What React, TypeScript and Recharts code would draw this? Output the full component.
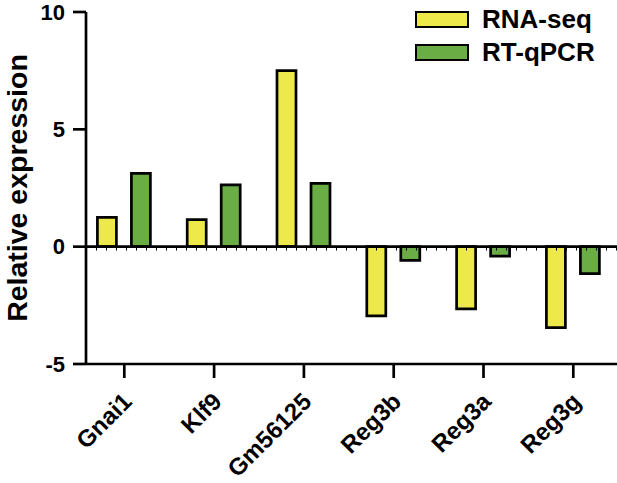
import React from 'react';
import { BarChart, Bar, XAxis, YAxis, ReferenceLine } from 'recharts';

const genes = ['Gnai1', 'Klf9', 'Gm56125', 'Reg3b', 'Reg3a', 'Reg3g'];
const rnaSeq = [1.25, 1.15, 7.5, -2.95, -2.65, -3.45];
const rtQpcr = [3.12, 2.63, 2.7, -0.58, -0.4, -1.15];
const yTicks = [-5, 0, 5, 10];
const seriesNames = ['RNA-seq', 'RT-qPCR'];

const data = genes.map((g, i) => ({ gene: g, rna: rnaSeq[i], qpcr: rtQpcr[i] }));

const FONT = 'Arial, "Liberation Sans", Helvetica, sans-serif';
const YELLOW = '#EEE94B';
const GREEN = '#69AD44';

const XTick = (props: any) => {
  const { x, y, payload } = props;
  const tx = x + 3;
  const ty = y + 17;
  return (
    <text
      x={tx}
      y={ty}
      transform={`rotate(-45, ${tx}, ${ty})`}
      textAnchor="end"
      dominantBaseline="central"
      fontFamily={FONT}
      fontWeight="bold"
      fontSize={24}
      fill="#000"
    >
      {payload.value}
    </text>
  );
};

const YTick = (props: any) => {
  const { x, y, payload } = props;
  return (
    <text
      x={x - 6}
      y={y}
      textAnchor="end"
      dominantBaseline="central"
      fontFamily={FONT}
      fontWeight="bold"
      fontSize={22}
      fill="#000"
    >
      {payload.value}
    </text>
  );
};

const YLabel = (props: any) => {
  const vb = props.viewBox || { x: 0, y: 12, width: 86, height: 352 };
  const cx = vb.x + 27;
  const cy = vb.y + vb.height / 2;
  return (
    <text
      x={cx}
      y={cy}
      transform={`rotate(-90, ${cx}, ${cy})`}
      textAnchor="middle"
      fontFamily={FONT}
      fontWeight="bold"
      fontSize={28.5}
      fill="#000"
    >
      Relative expression
    </text>
  );
};

const LegendBox = () => {
  const colors = [YELLOW, GREEN];
  return (
    <div style={{ position: 'absolute', top: 3, left: 415, fontFamily: FONT }}>
      {seriesNames.map((label, i) => (
        <div key={label} style={{ display: 'flex', alignItems: 'center', height: 33 }}>
          <div
            style={{
              width: 50,
              height: 13,
              background: colors[i],
              border: '2.5px solid #000',
              marginRight: 13,
            }}
          />
          <span style={{ fontWeight: 'bold', fontSize: 26, color: '#000', lineHeight: '33px' }}>{label}</span>
        </div>
      ))}
    </div>
  );
};

export default function App() {
  return (
    <div style={{ position: 'absolute', left: 0, top: 0, width: 617, height: 483, background: '#fff' }}>
      <BarChart
        width={617}
        height={483}
        data={data}
        margin={{ top: 12, right: 0, bottom: 0, left: 0 }}
        barGap={15}
        barSize={19}
      >
        <XAxis
          dataKey="gene"
          axisLine={{ stroke: '#000', strokeWidth: 2.7 }}
          tickLine={{ stroke: '#000', strokeWidth: 2.7 }}
          tickSize={14}
          tick={<XTick />}
          interval={0}
          padding={{ left: -6.6, right: -1.2 }}
          height={119}
        />
        <YAxis
          domain={[-5, 10]}
          ticks={yTicks}
          width={86}
          axisLine={{ stroke: '#000', strokeWidth: 2.7 }}
          tickLine={{ stroke: '#000', strokeWidth: 2.7 }}
          tickSize={13}
          tick={<YTick />}
          interval={0}
          label={<YLabel />}
        />
        <ReferenceLine y={0} stroke="#000" strokeWidth={2.7} />
        <ReferenceLine y={-0.08} stroke="#000" strokeWidth={4} strokeDasharray="1 9" />
        <Bar dataKey="rna" name={seriesNames[0]} fill={YELLOW} stroke="#000" strokeWidth={2.7} isAnimationActive={false} />
        <Bar dataKey="qpcr" name={seriesNames[1]} fill={GREEN} stroke="#000" strokeWidth={2.7} isAnimationActive={false} />
      </BarChart>
      <LegendBox />
    </div>
  );
}
